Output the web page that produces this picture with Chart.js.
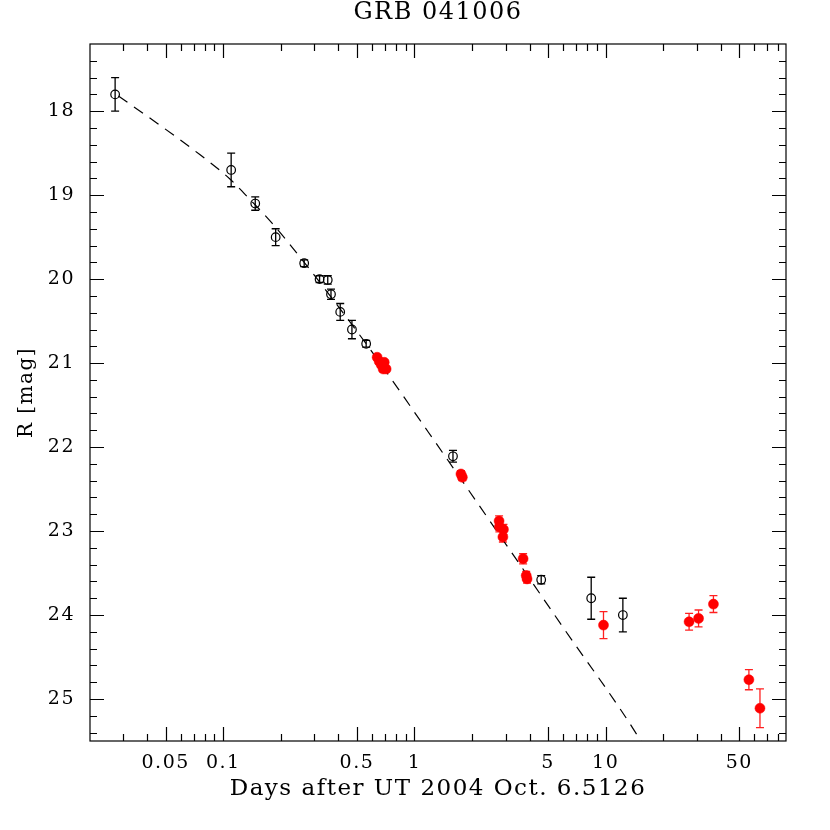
<!DOCTYPE html>
<html>
<head>
<meta charset="utf-8">
<title>GRB 041006</title>
<script src="https://cdn.jsdelivr.net/npm/chart.js@4.4.0/dist/chart.umd.min.js"></script>
<style>
  html, body { margin: 0; padding: 0; background: #fff; }
</style>
</head>
<body>
<canvas id="lc" width="830" height="830"></canvas>
<script>
// R-band light curve of GRB 041006

// open circles (other sources)
const openT   = [0.0272, 0.110, 0.147, 0.188, 0.265, 0.319, 0.352, 0.366, 0.409, 0.471, 0.559, 1.59, 4.60, 8.40, 12.3];
const openR   = [17.80, 18.70, 19.10, 19.50, 19.81, 20.00, 20.01, 20.18, 20.39, 20.60, 20.77, 22.11, 23.58, 23.80, 24.00];
const openErr = [0.20, 0.20, 0.08, 0.10, 0.04, 0.04, 0.05, 0.06, 0.10, 0.11, 0.04, 0.07, 0.05, 0.25, 0.20];

// filled red circles
const redT   = [0.638, 0.654, 0.670, 0.695, 0.711, 0.686, 1.75, 1.78, 2.77, 2.78, 2.92, 2.90, 3.70, 3.84, 3.88, 9.74, 27.3, 30.6, 36.6, 56.1, 64.1];
const redR   = [20.93, 20.98, 21.02, 20.99, 21.07, 21.07, 22.32, 22.36, 22.88, 22.95, 22.98, 23.07, 23.33, 23.53, 23.57, 24.12, 24.08, 24.04, 23.87, 24.77, 25.11];
const redErr = [0.03, 0.03, 0.03, 0.03, 0.03, 0.03, 0.04, 0.04, 0.06, 0.06, 0.06, 0.06, 0.06, 0.05, 0.05, 0.16, 0.10, 0.10, 0.10, 0.12, 0.23];

// dashed model curve
const fitT = [0.0283, 0.0449, 0.0757, 0.1087, 0.130, 0.1795, 0.2426, 0.559, 1.18, 2.64, 6.0, 14.8, 15.5];
const fitR = [17.82, 18.14, 18.52, 18.81, 18.99, 19.33, 19.69, 20.77, 21.82, 22.97, 24.15, 25.45, 25.53];

// axis ticks
const xTickLabels = [0.05, 0.1, 0.5, 1, 5, 10, 50];
const yTickLabels = [18, 19, 20, 21, 22, 23, 24, 25];

const FONT = "'DejaVu Serif', 'Liberation Serif', serif";

function pts(ts, rs) {
    return ts.map((t, i) => ({ x: t, y: rs[i] }));
}

// frame with inward ticks on all four sides
const frameTicks = {
    id: 'frameTicks',
    beforeDraw(chart) {
        chart.ctx.letterSpacing = '1.5px';
    },
    beforeDatasetsDraw(chart) {
        const { ctx, chartArea: a, scales: { x, y } } = chart;
        ctx.save();
        ctx.strokeStyle = '#000';
        ctx.lineWidth = 1.2;
        ctx.strokeRect(a.left, a.top, a.right - a.left, a.bottom - a.top);
        ctx.beginPath();
        for (let e = -2; e <= 1; e++) {
            for (let m = 1; m <= 9; m++) {
                const v = m * Math.pow(10, e);
                if (v <= x.min || v >= x.max) continue;
                const px = Math.round(x.getPixelForValue(v)) + 0.5;
                const len = (m === 1 || m === 5) ? 14 : 7;
                ctx.moveTo(px, a.bottom); ctx.lineTo(px, a.bottom - len);
                ctx.moveTo(px, a.top); ctx.lineTo(px, a.top + len);
            }
        }
        for (let i = 87; i <= 127; i++) {
            const py = Math.round(y.getPixelForValue(i / 5)) + 0.5;
            const len = (i % 5 === 0) ? 14 : 7;
            ctx.moveTo(a.left, py); ctx.lineTo(a.left + len, py);
            ctx.moveTo(a.right, py); ctx.lineTo(a.right - len, py);
        }
        ctx.stroke();
        ctx.restore();
    },
    afterDraw(chart) {
        chart.ctx.letterSpacing = '0px';
    }
};

// vertical error bars with caps
const errorBars = {
    id: 'errorBars',
    beforeDatasetsDraw(chart) {
        const { ctx, chartArea: a, scales: { x, y } } = chart;
        const draw = (ts, rs, es, color) => {
            ctx.strokeStyle = color;
            ctx.lineWidth = 1.3;
            ctx.beginPath();
            ts.forEach((t, i) => {
                const px = x.getPixelForValue(t);
                const y1 = y.getPixelForValue(rs[i] - es[i]);
                const y2 = y.getPixelForValue(rs[i] + es[i]);
                ctx.moveTo(px, y1); ctx.lineTo(px, y2);
                ctx.moveTo(px - 4, y1); ctx.lineTo(px + 4, y1);
                ctx.moveTo(px - 4, y2); ctx.lineTo(px + 4, y2);
            });
            ctx.stroke();
        };
        ctx.save();
        ctx.beginPath();
        ctx.rect(a.left, a.top, a.right - a.left, a.bottom - a.top);
        ctx.clip();
        draw(openT, openR, openErr, '#000');
        draw(redT, redR, redErr, '#ff2020');
        ctx.restore();
    }
};

new Chart(document.getElementById('lc'), {
    type: 'scatter',
    data: {
        datasets: [
            {
                type: 'line',
                label: 'model',
                data: pts(fitT, fitR),
                borderColor: '#000',
                borderWidth: 1.2,
                borderDash: [11, 8],
                pointRadius: 0,
                fill: false,
                cubicInterpolationMode: 'monotone',
                order: 3
            },
            {
                label: 'open',
                data: pts(openT, openR),
                pointStyle: 'circle',
                pointRadius: 4.3,
                borderColor: '#000',
                borderWidth: 1.2,
                backgroundColor: 'rgba(0,0,0,0)',
                order: 2
            },
            {
                label: 'red',
                data: pts(redT, redR),
                pointStyle: 'circle',
                pointRadius: 5,
                borderColor: '#ff0000',
                borderWidth: 0.5,
                backgroundColor: '#ff0000',
                order: 1
            }
        ]
    },
    options: {
        responsive: false,
        animation: false,
        devicePixelRatio: 1,
        layout: { padding: { top: 0, right: 44, bottom: 0, left: 0 } },
        plugins: {
            legend: { display: false },
            tooltip: { enabled: false },
            title: {
                display: true,
                fullSize: false,
                text: 'GRB 041006',
                color: '#000',
                font: { family: FONT, size: 24, weight: 'normal', lineHeight: 1 },
                padding: { top: 1, bottom: 19 }
            }
        },
        scales: {
            x: {
                type: 'logarithmic',
                position: 'bottom',
                min: 0.0201,
                max: 87.7,
                grid: { display: false, drawTicks: false },
                border: { display: false },
                afterBuildTicks: (s) => { s.ticks = xTickLabels.map(v => ({ value: v })); },
                afterFit: (s) => { s.height = 89; },
                ticks: {
                    autoSkip: false,
                    maxRotation: 0,
                    padding: 11,
                    color: '#000',
                    font: { family: FONT, size: 19 },
                    callback: (v) => String(v)
                },
                title: {
                    display: true,
                    text: 'Days after UT 2004 Oct. 6.5126',
                    color: '#000',
                    font: { family: FONT, size: 23 },
                    padding: { top: 0, bottom: 27 }
                }
            },
            y: {
                type: 'linear',
                reverse: true,
                min: 17.2,
                max: 25.5,
                grid: { display: false, drawTicks: false },
                border: { display: false },
                afterBuildTicks: (s) => { s.ticks = yTickLabels.map(v => ({ value: v })); },
                afterFit: (s) => { s.width = 90; },
                ticks: {
                    padding: 15,
                    color: '#000',
                    font: { family: FONT, size: 19 },
                    callback: (v) => String(v)
                },
                title: {
                    display: true,
                    text: 'R [mag]',
                    color: '#000',
                    font: { family: FONT, size: 20 },
                    padding: { top: 15, bottom: 0 }
                }
            }
        }
    },
    plugins: [frameTicks, errorBars]
});
</script>
</body>
</html>
